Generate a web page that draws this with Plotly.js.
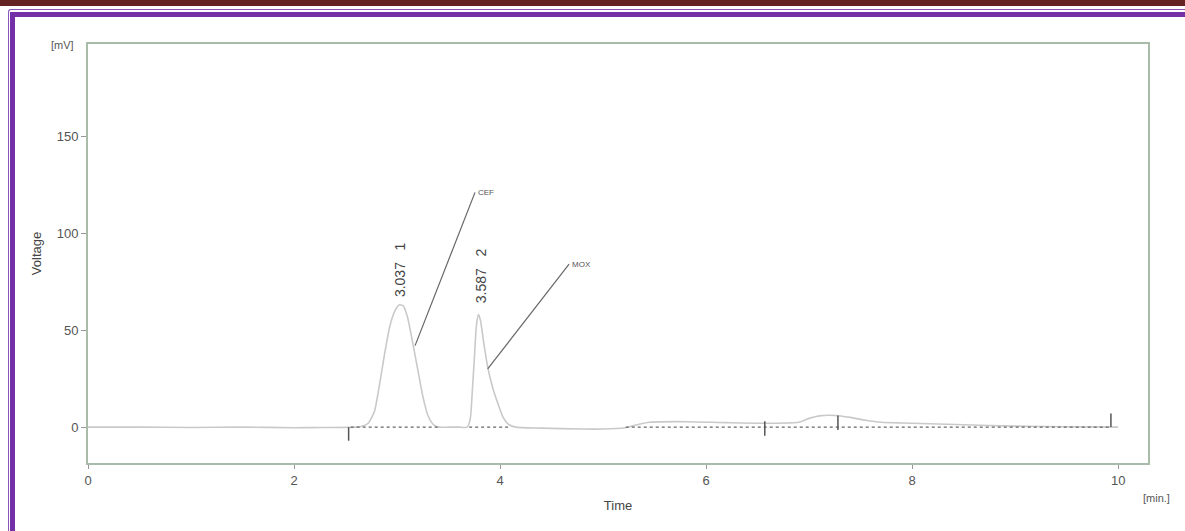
<!DOCTYPE html>
<html>
<head>
<meta charset="utf-8">
<script src="https://cdn.plot.ly/plotly-3.0.1.min.js"></script>
<style>
  html, body { margin: 0; padding: 0; background: #ffffff; }
  #wrap { position: relative; width: 1185px; height: 531px; overflow: hidden; background: #fff; }
  #topbar { position: absolute; left: 0; top: 0; width: 1185px; height: 6px; background: #652324; }
  #frameOuter { position: absolute; left: 8px; top: 9px; width: 1200px; height: 560px; border-left: 1px solid #8a55b8; border-top: 1px solid #8a55b8; border-radius: 3px; }
  #frame { position: absolute; left: 10px; top: 12px; width: 1200px; height: 560px; border-left: 5px solid #7430a6; border-top: 5px solid #7430a6; }
  #chart { position: absolute; left: 0; top: 0; width: 1185px; height: 531px; }
</style>
</head>
<body>
<div id="wrap">
  <div id="topbar"></div>
  <div id="frameOuter"></div>
  <div id="frame"></div>
  <div id="chart"></div>
</div>
<script>
// Chromatogram signal (time in min, voltage in mV)
const time = [0, 0.5, 1.0, 1.5, 2.0, 2.3, 2.6, 2.65, 2.72, 2.78, 2.83, 2.88, 2.93, 2.98, 3.02, 3.06, 3.10, 3.15, 3.20, 3.25, 3.30, 3.35, 3.40, 3.50, 3.60, 3.68, 3.71, 3.73, 3.75, 3.77, 3.79, 3.81, 3.84, 3.88, 3.93, 3.98, 4.03, 4.08, 4.15, 4.4, 4.8, 5.0, 5.2, 5.35, 5.45, 5.8, 6.2, 6.6, 6.9, 7.0, 7.1, 7.25, 7.4, 7.55, 7.7, 8.0, 8.5, 9.0, 9.5, 10.0];
const voltage = [0, 0, -0.2, 0, -0.3, -0.2, 0, 0.3, 2, 8, 22, 38, 52, 60, 63, 62.5, 57, 44, 30, 16, 6, 1.5, 0, 0, 0, 0, 4, 18, 35, 52, 58, 55, 44, 31, 20, 12, 5, 1.5, 0, -0.5, -1, -1, -0.5, 1.5, 2.5, 2.8, 2.3, 2, 2.5, 4.5, 5.8, 6, 5, 3.5, 2.5, 2, 1.2, 0.5, 0.2, 0];

// Integration baseline segments (start, end) in min
const baseStart = [2.55, 3.70, 5.22];
const baseEnd   = [3.40, 4.10, 9.93];

// Peak boundary markers
const markerTimes  = [2.53, 6.57, 7.28, 9.93];
const markerTop    = [0, 3, 6, 7];
const markerBottom = [-7, -4.5, -1.5, 0];

// Peak labels
const peakLabelX    = [3.03, 3.81];
const peakLabelY    = [81, 78];
const peakLabelText = ["3.037&nbsp;&nbsp;&nbsp;1", "3.587&nbsp;&nbsp;&nbsp;2"];

// Compound call-outs
const compoundNames = ["CEF", "MOX"];
const calloutX0 = [3.175, 3.88];
const calloutY0 = [42, 30];
const calloutX1 = [3.757, 4.67];
const calloutY1 = [121, 84];

// Axis ticks
const xTicks = [0, 2, 4, 6, 8, 10];
const yTicks = [0, 50, 100, 150];

const traces = [{
  x: time, y: voltage, type: 'scatter', mode: 'lines',
  line: { color: '#c9c9c9', width: 1.6, shape: 'spline', smoothing: 0.6 },
  hoverinfo: 'skip', showlegend: false
}];

baseStart.forEach((s, i) => {
  traces.push({
    x: [s, baseEnd[i]], y: [0, 0], type: 'scatter', mode: 'lines',
    line: { color: '#666', width: 1.2, dash: 'dot' }, showlegend: false, hoverinfo: 'skip'
  });
});

markerTimes.forEach((t, i) => {
  traces.push({
    x: [t, t], y: [markerBottom[i], markerTop[i]], type: 'scatter', mode: 'lines',
    line: { color: '#555', width: 1.5 }, showlegend: false, hoverinfo: 'skip'
  });
});

compoundNames.forEach((n, i) => {
  traces.push({
    x: [calloutX0[i], calloutX1[i]], y: [calloutY0[i], calloutY1[i]], type: 'scatter', mode: 'lines',
    line: { color: '#666', width: 1.2 }, showlegend: false, hoverinfo: 'skip'
  });
});

const annotations = [];
peakLabelText.forEach((t, i) => {
  annotations.push({
    x: peakLabelX[i], y: peakLabelY[i], xref: 'x', yref: 'y', text: t, showarrow: false,
    textangle: -90, font: { family: 'Liberation Sans, Arial, sans-serif', size: 14, color: '#444' }
  });
});
compoundNames.forEach((n, i) => {
  annotations.push({
    x: calloutX1[i], y: calloutY1[i], xref: 'x', yref: 'y', text: n, showarrow: false,
    xanchor: 'left', yanchor: 'middle', xshift: 1,
    font: { family: 'Liberation Sans, Arial, sans-serif', size: 8, color: '#555' }
  });
});
annotations.push({
  x: -0.024, y: 1.0, xref: 'paper', yref: 'paper', text: '[mV]', showarrow: false,
  xanchor: 'center', yanchor: 'bottom', yshift: -9,
  font: { family: 'Liberation Sans, Arial, sans-serif', size: 11, color: '#555' }
});
annotations.push({
  x: 1.0, y: 0, xref: 'paper', yref: 'paper', text: '[min.]', showarrow: false,
  xanchor: 'center', yanchor: 'top', yshift: -27, xshift: 8,
  font: { family: 'Liberation Sans, Arial, sans-serif', size: 11, color: '#555' }
});

const layout = {
  width: 1185, height: 531,
  margin: { l: 88, r: 37, t: 44, b: 68 },
  paper_bgcolor: 'rgba(0,0,0,0)',
  plot_bgcolor: '#ffffff',
  font: { family: 'Liberation Sans, Arial, sans-serif', size: 13, color: '#555' },
  xaxis: {
    range: [0, 10.29], tickvals: xTicks, ticktext: xTicks.map(String),
    ticks: 'outside', ticklen: 4, tickcolor: '#999', tickwidth: 1,
    showline: true, linecolor: '#a9bba9', linewidth: 2, mirror: true,
    showgrid: false, zeroline: false,
    tickfont: { size: 13, color: '#555' },
    title: { text: 'Time', font: { size: 13, color: '#444' }, standoff: 14 }
  },
  yaxis: {
    range: [-18.5, 197.5], tickvals: yTicks, ticktext: yTicks.map(String),
    ticks: 'outside', ticklen: 5, tickcolor: '#999', tickwidth: 1,
    showline: true, linecolor: '#a9bba9', linewidth: 2, mirror: true,
    showgrid: false, zeroline: false,
    tickfont: { size: 13, color: '#555' },
    title: { text: 'Voltage', font: { size: 13, color: '#444' }, standoff: 12 }
  },
  annotations: annotations,
  showlegend: false
};

Plotly.newPlot('chart', traces, layout, { displayModeBar: false, staticPlot: true });
</script>
</body>
</html>
